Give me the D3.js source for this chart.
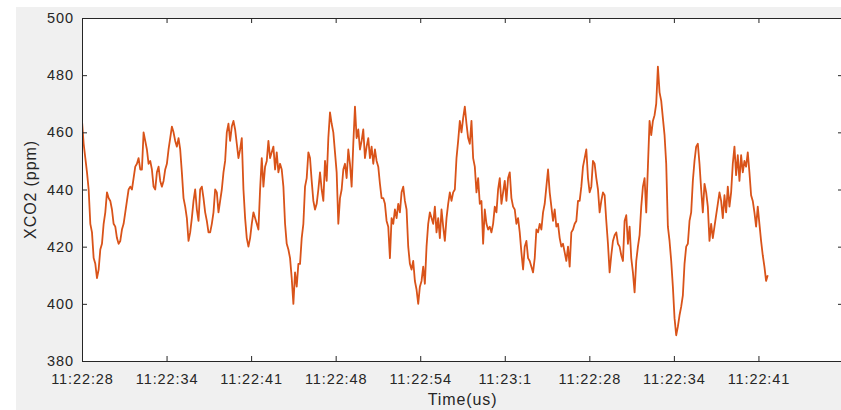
<!DOCTYPE html>
<html>
<head>
<meta charset="utf-8">
<script src="https://cdn.jsdelivr.net/npm/d3@7"></script>
<style>
  html, body { margin: 0; padding: 0; background: #ffffff; }
  svg { display: block; }
  .tick text { font-family: "Liberation Sans", Arial, sans-serif; font-size: 14.5px; fill: #262626; letter-spacing: 0.9px; }
  .lbl { font-family: "Liberation Sans", Arial, sans-serif; font-size: 16px; fill: #262626; letter-spacing: 0.9px; }
</style>
</head>
<body>
<script>
// ---- data ----
const xTickLabels = ["11:22:28","11:22:34","11:22:41","11:22:48","11:22:54","11:23:1","11:22:28","11:22:34","11:22:41"];
const xTickIndex = [0,1,2,3,4,5,6,7,8];
const yTicks = [380,400,420,440,460,480,500];
const yDomain = [380, 500];
const xDomain = [0, 9];
const tEnd = 8.11; // time of last sample, in tick-index units

const seg1 = [464,456,451,446,440,428,425,416,414,409,412,419,421,428,432,439,437,436,433,428,
  427,423,421,422,426,428,432,436,440,441,440,444,448,449,451,447,447,460,457,454,
  449,450,447,441,440,446,448,443,441,443,447,449,454,458,462,460,457,455,458,454,
  446,437,434,430,422,425,430,436,440,433,429,440,441,437,432,429,425,425,428,432,
  440,439,432,436,440,446,450,460,463,457,462,464,461,456,451,454,458,440,430,423,
  420,423,428,432,430];
const seg2 = [428,426,440,451,441,448,450,457,451,453,455,447,453,446,449,447,441,428,421,419,
  416,409,400,411,406,414,414,423,428,441,444,453,451,443,436,433,435,440,446,440,
  436,450,443,458,467,463,460,453,446,428,437,440,447,449,444,454,449,441,456,469,
  458,461,454,457,461,451,455,458,451,455,449,454,450,448,442,437,437,435,429,427,
  416,430,428,433,430,435,432,439,441,436,433,420,414,412,415,408,405,400,406,408,
  413,407,420,428];
const seg3 = [432,430,428,434,425,430,423,433,427,422,430,435,439,436,439,440,451,457,464,460,
  465,469,463,458,456,464,451,448,439,444,435,436,421,433,428,426,427,425,428,434,
  432,440,444,435,439,443,436,444,446,437,434,433,428,430,425,418,412,420,422,416,
  415,413,411,416,426,425,428,426,432,435,441,447,439,434,429,433,427,428,423,420,
  421,418,415,420,413,425,426,428,429,436,436,441,448,451,454,444,439,441,450,449,
  444,440,432,436,439];
const seg4 = [438,429,421,411,417,422,424,425,421,420,417,415,429,431,421,427,416,411,404,415,
  420,424,434,441,444,432,448,464,459,464,466,470,483,474,471,465,459,449,427,422,
  415,406,395,389,392,396,399,403,414,420,421,429,432,443,450,455,456,449,440,432,
  442,439,434,422,428,423,427,431,435,439,436,430,438,432,441,434,439,449,455,445,
  452,443,452,446,450,448,453,446,438,436,432,427,434,428,422,417,413,408,410];

const values = seg1.concat(seg2, seg3, seg4);
const series = values.map((v, i) => ({ t: i * tEnd / (values.length - 1), v }));

// ---- layout ----
const W = 841, H = 410;
const plot = { left: 82, top: 18, right: 843, bottom: 361 };

const svg = d3.select("body").append("svg").attr("width", W).attr("height", H);

svg.append("rect").attr("x", 16).attr("y", 7).attr("width", W - 16).attr("height", H - 7).attr("fill", "#f0f0f0");
svg.append("rect").attr("x", plot.left).attr("y", plot.top)
  .attr("width", plot.right - plot.left).attr("height", plot.bottom - plot.top).attr("fill", "#ffffff");

const x = d3.scaleLinear().domain(xDomain).range([plot.left, plot.right]);
const y = d3.scaleLinear().domain(yDomain).range([plot.bottom, plot.top]);

svg.append("clipPath").attr("id", "clip").append("rect")
  .attr("x", plot.left).attr("y", plot.top).attr("width", plot.right - plot.left).attr("height", plot.bottom - plot.top);

const line = d3.line().x(d => x(d.t)).y(d => y(d.v));
svg.append("path").datum(series)
  .attr("clip-path", "url(#clip)")
  .attr("fill", "none").attr("stroke", "#D95319").attr("stroke-width", 1.8)
  .attr("stroke-linejoin", "round")
  .attr("d", line);

function styleAxis(g) {
  g.attr("font-family", null).attr("font-size", null);
  g.selectAll(".domain").attr("stroke", "#262626");
  g.selectAll(".tick line").attr("stroke", "#262626");
}

const gx = svg.append("g").attr("transform", `translate(0,${plot.bottom})`)
  .call(d3.axisBottom(x).tickValues(xTickIndex).tickFormat(i => xTickLabels[i])
    .tickSizeInner(-5).tickSizeOuter(0).tickPadding(12.5));
styleAxis(gx);

const gt = svg.append("g").attr("transform", `translate(0,${plot.top})`)
  .call(d3.axisTop(x).tickValues(xTickIndex).tickFormat("").tickSizeInner(-5).tickSizeOuter(0));
styleAxis(gt);

const gy = svg.append("g").attr("transform", `translate(${plot.left},0)`)
  .call(d3.axisLeft(y).tickValues(yTicks).tickFormat(d3.format("d"))
    .tickSizeInner(-5).tickSizeOuter(0).tickPadding(8));
styleAxis(gy);

const gr = svg.append("g").attr("transform", `translate(${plot.right},0)`)
  .call(d3.axisRight(y).tickValues(yTicks).tickFormat("").tickSizeInner(-5).tickSizeOuter(0));
styleAxis(gr);

svg.append("text").attr("class", "lbl")
  .attr("x", (plot.left + plot.right) / 2).attr("y", 405)
  .attr("text-anchor", "middle").text("Time(us)");

svg.append("text").attr("class", "lbl")
  .attr("transform", `translate(36,${(plot.top + plot.bottom) / 2}) rotate(-90)`)
  .attr("text-anchor", "middle").text("XCO2 (ppm)");
</script>
</body>
</html>
